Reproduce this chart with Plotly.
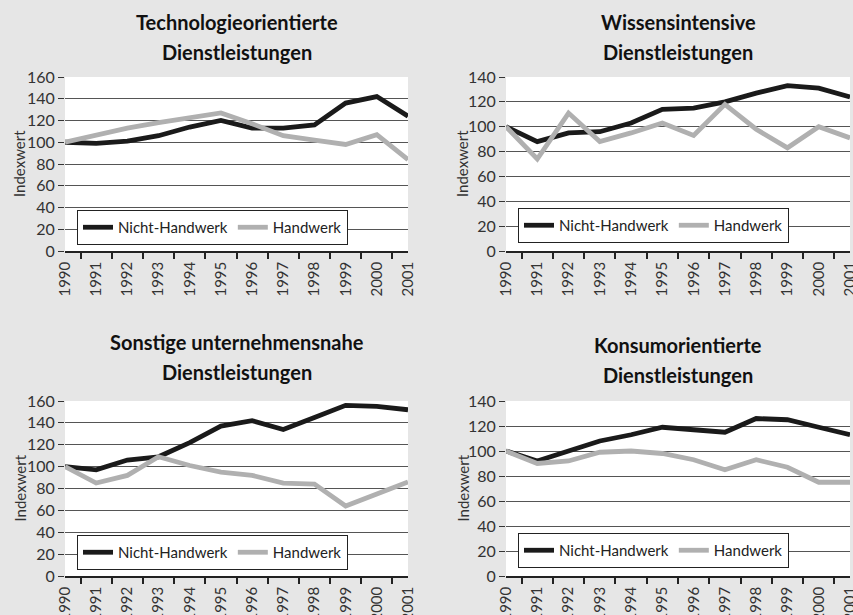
import plotly.graph_objects as go

W, H = 853, 615

years = ["1990", "1991", "1992", "1993", "1994", "1995", "1996", "1997", "1998", "1999", "2000", "2001"]

titles = [
    "Technologieorientierte<br>Dienstleistungen",
    "Wissensintensive<br>Dienstleistungen",
    "Sonstige unternehmensnahe<br>Dienstleistungen",
    "Konsumorientierte<br>Dienstleistungen",
]

tech_nicht = [100, 99, 101, 106, 114, 120, 113, 113, 116, 136, 142, 124]
tech_hand = [100, 107, 113, 118, 123, 127, 117, 106, 102, 98, 107, 84]

wissen_nicht = [100, 88, 95, 96, 103, 114, 115, 120, 127, 133, 131, 124]
wissen_hand = [100, 74, 111, 88, 95, 103, 93, 118, 98, 83, 100, 91]

sonst_nicht = [100, 97, 106, 109, 122, 137, 142, 134, 145, 156, 155, 152]
sonst_hand = [100, 85, 92, 109, 101, 95, 92, 85, 84, 64, 75, 86]

konsum_nicht = [100, 92, 100, 108, 113, 119, 117, 115, 126, 125, 119, 113]
konsum_hand = [100, 90, 92, 99, 100, 98, 93, 85, 93, 87, 75, 75]

y_max = [160, 140, 160, 140]
series_names = ["Nicht-Handwerk", "Handwerk"]

panels = [
    (tech_nicht, tech_hand),
    (wissen_nicht, wissen_hand),
    (sonst_nicht, sonst_hand),
    (konsum_nicht, konsum_hand),
]

# pixel boxes of plot areas: (left, right, top, bottom)
boxes = [
    (65, 408, 77, 251),
    (506, 850, 77, 251),
    (65, 408, 401, 576),
    (506, 850, 401, 576),
]
title_y = [(22, 52), (22, 52), (342, 372), (345, 375)]
legend_pos = [(77, 210), (518, 208), (77, 535), (518, 533)]
ytitle_x = [19, 462, 19, 462]

FONT = "Lato"
BLACK = "#1a1a1a"
GRAY = "#b0b0b0"

fig = go.Figure()
annotations = []
layout = {}

for i, (nicht, hand) in enumerate(panels):
    n = i + 1
    xa = "x" if n == 1 else f"x{n}"
    ya = "y" if n == 1 else f"y{n}"
    lg = "legend" if n == 1 else f"legend{n}"
    fig.add_trace(go.Scatter(x=years, y=nicht, mode="lines", name=series_names[0],
                             line=dict(color=BLACK, width=4.8), xaxis=xa, yaxis=ya,
                             legend=lg, hoverinfo="x+y"))
    fig.add_trace(go.Scatter(x=years, y=hand, mode="lines", name=series_names[1],
                             line=dict(color=GRAY, width=4.8), xaxis=xa, yaxis=ya,
                             legend=lg, hoverinfo="x+y"))
    l, r, t, b = boxes[i]
    xkey = "xaxis" if n == 1 else f"xaxis{n}"
    ykey = "yaxis" if n == 1 else f"yaxis{n}"
    layout[xkey] = dict(
        domain=[l / W, r / W], anchor=ya, type="category", automargin=False,
        showline=True, linecolor="#222", linewidth=1.5,
        ticks="outside", tickson="boundaries", ticklen=6, tickcolor="#222", tickwidth=1.5,
        tickangle=-90, tickfont=dict(family=FONT, size=15, color="#333"),
        ticklabelstandoff=3,
        showgrid=False, fixedrange=True,
    )
    layout[ykey] = dict(
        domain=[1 - b / H, 1 - t / H], anchor=xa, range=[0, y_max[i]], dtick=20,
        automargin=False,
        showgrid=True, gridcolor="#555", gridwidth=1.3, zeroline=False,
        showline=False, ticks="outside", ticklen=6, tickcolor="#333", tickwidth=1.3,
        tickfont=dict(family=FONT, size=16, color="#333"), fixedrange=True,
    )
    lx, ly = legend_pos[i]
    layout[lg] = dict(
        x=lx / W, y=1 - ly / H, xanchor="left", yanchor="top", xref="paper", yref="paper",
        orientation="h", bgcolor="white", bordercolor="#222", borderwidth=1,
        font=dict(family=FONT, size=15, color="#222"), itemwidth=30,
        tracegroupgap=0, itemclick=False, itemdoubleclick=False,
    )
    tline1, tline2 = titles[i].split("<br>")
    cx = (l + r) / 2 / W
    annotations.append(dict(text=f"<b>{tline1}</b>", x=cx, y=1 - title_y[i][0] / H,
                            xref="paper", yref="paper", showarrow=False,
                            font=dict(family=FONT, size=20, color="#111"),
                            xanchor="center", yanchor="middle"))
    annotations.append(dict(text=f"<b>{tline2}</b>", x=cx, y=1 - title_y[i][1] / H,
                            xref="paper", yref="paper", showarrow=False,
                            font=dict(family=FONT, size=20, color="#111"),
                            xanchor="center", yanchor="middle"))
    annotations.append(dict(text="Indexwert", x=ytitle_x[i] / W, y=1 - (t + b) / 2 / H,
                            xref="paper", yref="paper", showarrow=False, textangle=-90,
                            font=dict(family=FONT, size=15, color="#333"),
                            xanchor="center", yanchor="middle"))

fig.update_layout(
    width=W, height=H,
    margin=dict(l=0, r=0, t=0, b=0),
    paper_bgcolor="#e6e6e6", plot_bgcolor="white",
    showlegend=True,
    annotations=annotations,
    **layout,
)

fig.write_html("out.html", config={"displayModeBar": False},
               post_script="document.body.style.margin='0';")
